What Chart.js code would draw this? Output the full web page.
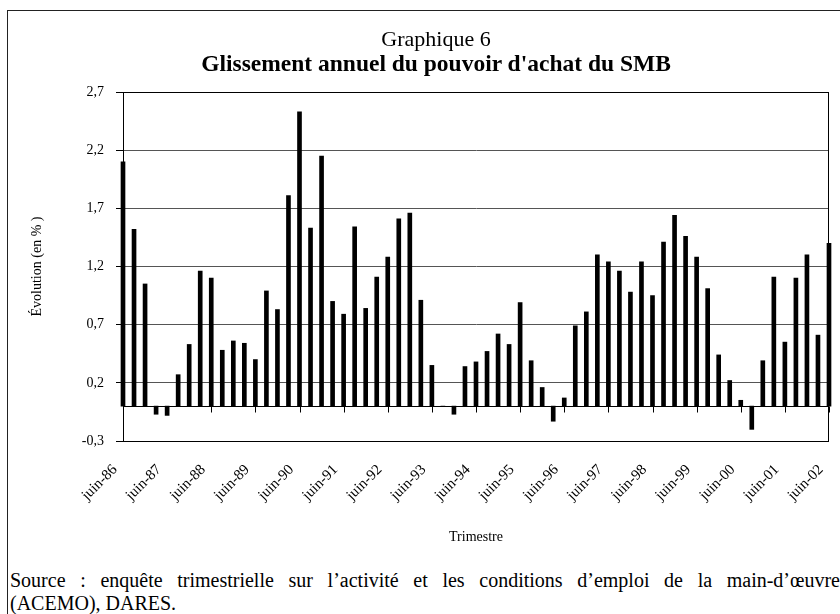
<!DOCTYPE html>
<html lang="fr">
<head>
<meta charset="utf-8">
<title>Graphique 6</title>
<script src="https://cdn.jsdelivr.net/npm/chart.js@4.4.1/dist/chart.umd.min.js"></script>
<style>
  html, body { margin: 0; padding: 0; background: #fff; overflow: hidden; width: 840px; height: 614px; }
  #cadre { position: absolute; left: 7px; top: 10px; width: 880px; height: 700px; border: 1px solid #222; }
  #graphique { position: absolute; left: 0; top: 0; }
  #titre { position: absolute; left: 128px; top: 15px; width: 600px; text-align: center; font-family: 'Liberation Serif', 'Times New Roman', serif; color: #000; }
  #titre .t1 { font-size: 22px; line-height: 25px; }
  #titre .t2 { font-size: 23.5px; line-height: 25px; font-weight: bold; }
  #source { position: absolute; left: 2px; top: 558px; width: 830px; font: 20px/23px 'Liberation Serif', 'Times New Roman', serif; color: #000; }
  #source .l1 { text-align: justify; text-align-last: justify; }
</style>
</head>
<body>
<div id="cadre">
  <canvas id="graphique" width="860" height="540"></canvas>
  <div id="titre">
    <div class="t1">Graphique 6</div>
    <div class="t2">Glissement annuel du pouvoir d'achat du SMB</div>
  </div>
  <div id="source">
    <div class="l1">Source : enquête trimestrielle sur l’activité et les conditions d’emploi de la main-d’œuvre</div>
    <div>(ACEMO), DARES.</div>
  </div>
</div>
<script>
// Trimestres (juin 1986 - juin 2002)
const trimestres = [
  'juin-86', 'sept-86', 'déc-86',
  'mars-87', 'juin-87', 'sept-87', 'déc-87',
  'mars-88', 'juin-88', 'sept-88', 'déc-88',
  'mars-89', 'juin-89', 'sept-89', 'déc-89',
  'mars-90', 'juin-90', 'sept-90', 'déc-90',
  'mars-91', 'juin-91', 'sept-91', 'déc-91',
  'mars-92', 'juin-92', 'sept-92', 'déc-92',
  'mars-93', 'juin-93', 'sept-93', 'déc-93',
  'mars-94', 'juin-94', 'sept-94', 'déc-94',
  'mars-95', 'juin-95', 'sept-95', 'déc-95',
  'mars-96', 'juin-96', 'sept-96', 'déc-96',
  'mars-97', 'juin-97', 'sept-97', 'déc-97',
  'mars-98', 'juin-98', 'sept-98', 'déc-98',
  'mars-99', 'juin-99', 'sept-99', 'déc-99',
  'mars-00', 'juin-00', 'sept-00', 'déc-00',
  'mars-01', 'juin-01', 'sept-01', 'déc-01',
  'mars-02', 'juin-02'
];

// Glissement annuel du pouvoir d'achat (en %)
const glissement = [
  2.10, 1.52, 1.05,
  -0.07, -0.08, 0.27, 0.53,
  1.16, 1.10, 0.48, 0.56,
  0.54, 0.40, 0.99, 0.83,
  1.81, 2.53, 1.53, 2.15,
  0.90, 0.79, 1.54, 0.84,
  1.11, 1.28, 1.61, 1.66,
  0.91, 0.35, 0.00, -0.07,
  0.34, 0.38, 0.47, 0.62,
  0.53, 0.89, 0.39, 0.16,
  -0.13, 0.07, 0.69, 0.81,
  1.30, 1.24, 1.16, 0.98,
  1.24, 0.95, 1.41, 1.64,
  1.46, 1.28, 1.01, 0.44,
  0.22, 0.05, -0.20, 0.39,
  1.11, 0.55, 1.10, 1.30,
  0.61, 1.40
];

// Graduations de l'axe vertical
const yTicks = [-0.3, 0.2, 0.7, 1.2, 1.7, 2.2, 2.7];

const serif = "'Liberation Serif', 'Times New Roman', serif";

// cadre de la zone de tracé + axe horizontal à zéro
const cadrePlot = {
  id: 'cadrePlot',
  afterDatasetsDraw(chart) {
    const { ctx, chartArea: a, scales: { x, y } } = chart;
    ctx.save();
    ctx.strokeStyle = '#000';
    ctx.lineWidth = 1;
    ctx.strokeRect(Math.round(a.left) + 0.5, Math.round(a.top) + 0.5,
      Math.round(a.width) - 1, Math.round(a.height));
    const y0 = Math.round(y.getPixelForValue(0)) + 0.5;
    ctx.beginPath();
    ctx.moveTo(a.left, y0);
    ctx.lineTo(a.right, y0);
    trimestres.forEach((t, i) => {
      if (i % 4 === 0) {
        const px = Math.round(x.getPixelForValue(i)) + 0.5;
        ctx.moveTo(px, y0);
        ctx.lineTo(px, y0 + 6);
      }
    });
    ctx.stroke();
    ctx.restore();
  }
};

new Chart(document.getElementById('graphique'), {
  type: 'bar',
  data: {
    labels: trimestres,
    datasets: [{
      data: glissement,
      backgroundColor: '#000',
      barThickness: 4,
      clip: false
    }]
  },
  options: {
    responsive: false,
    devicePixelRatio: 1,
    animation: false,
    layout: { padding: { top: 81, right: 39, bottom: 0, left: 0 } },
    plugins: {
      legend: { display: false },
      tooltip: { enabled: false }
    },
    scales: {
      x: {
        offset: false,
        afterFit: s => { s.height = 110; },
        grid: { display: false, drawTicks: false },
        border: { display: false },
        ticks: {
          autoSkip: false,
          minRotation: 45,
          maxRotation: 45,
          padding: 20,
          labelOffset: -8,
          color: '#000',
          font: { family: serif, size: 15 },
          callback: (v, i) => (i % 4 === 0 ? trimestres[i] : '')
        },
        title: {
          display: true,
          text: 'Trimestre',
          color: '#000',
          font: { family: serif, size: 14 },
          padding: { top: 0, bottom: 5 }
        }
      },
      y: {
        min: -0.3,
        max: 2.7,
        afterBuildTicks: s => { s.ticks = yTicks.map(v => ({ value: v })); },
        afterFit: s => { s.width = 115; },
        grid: { color: '#555', tickColor: '#000', tickLength: 7, drawTicks: true },
        border: { color: '#000' },
        ticks: {
          padding: 12,
          color: '#000',
          font: { family: serif, size: 14 },
          callback: v => v.toFixed(1).replace('.', ',')
        },
        title: {
          display: true,
          text: 'Évolution (en % )',
          color: '#000',
          font: { family: serif, size: 14 },
          padding: { top: 21, bottom: 0 }
        }
      }
    }
  },
  plugins: [cadrePlot]
});
</script>
</body>
</html>
